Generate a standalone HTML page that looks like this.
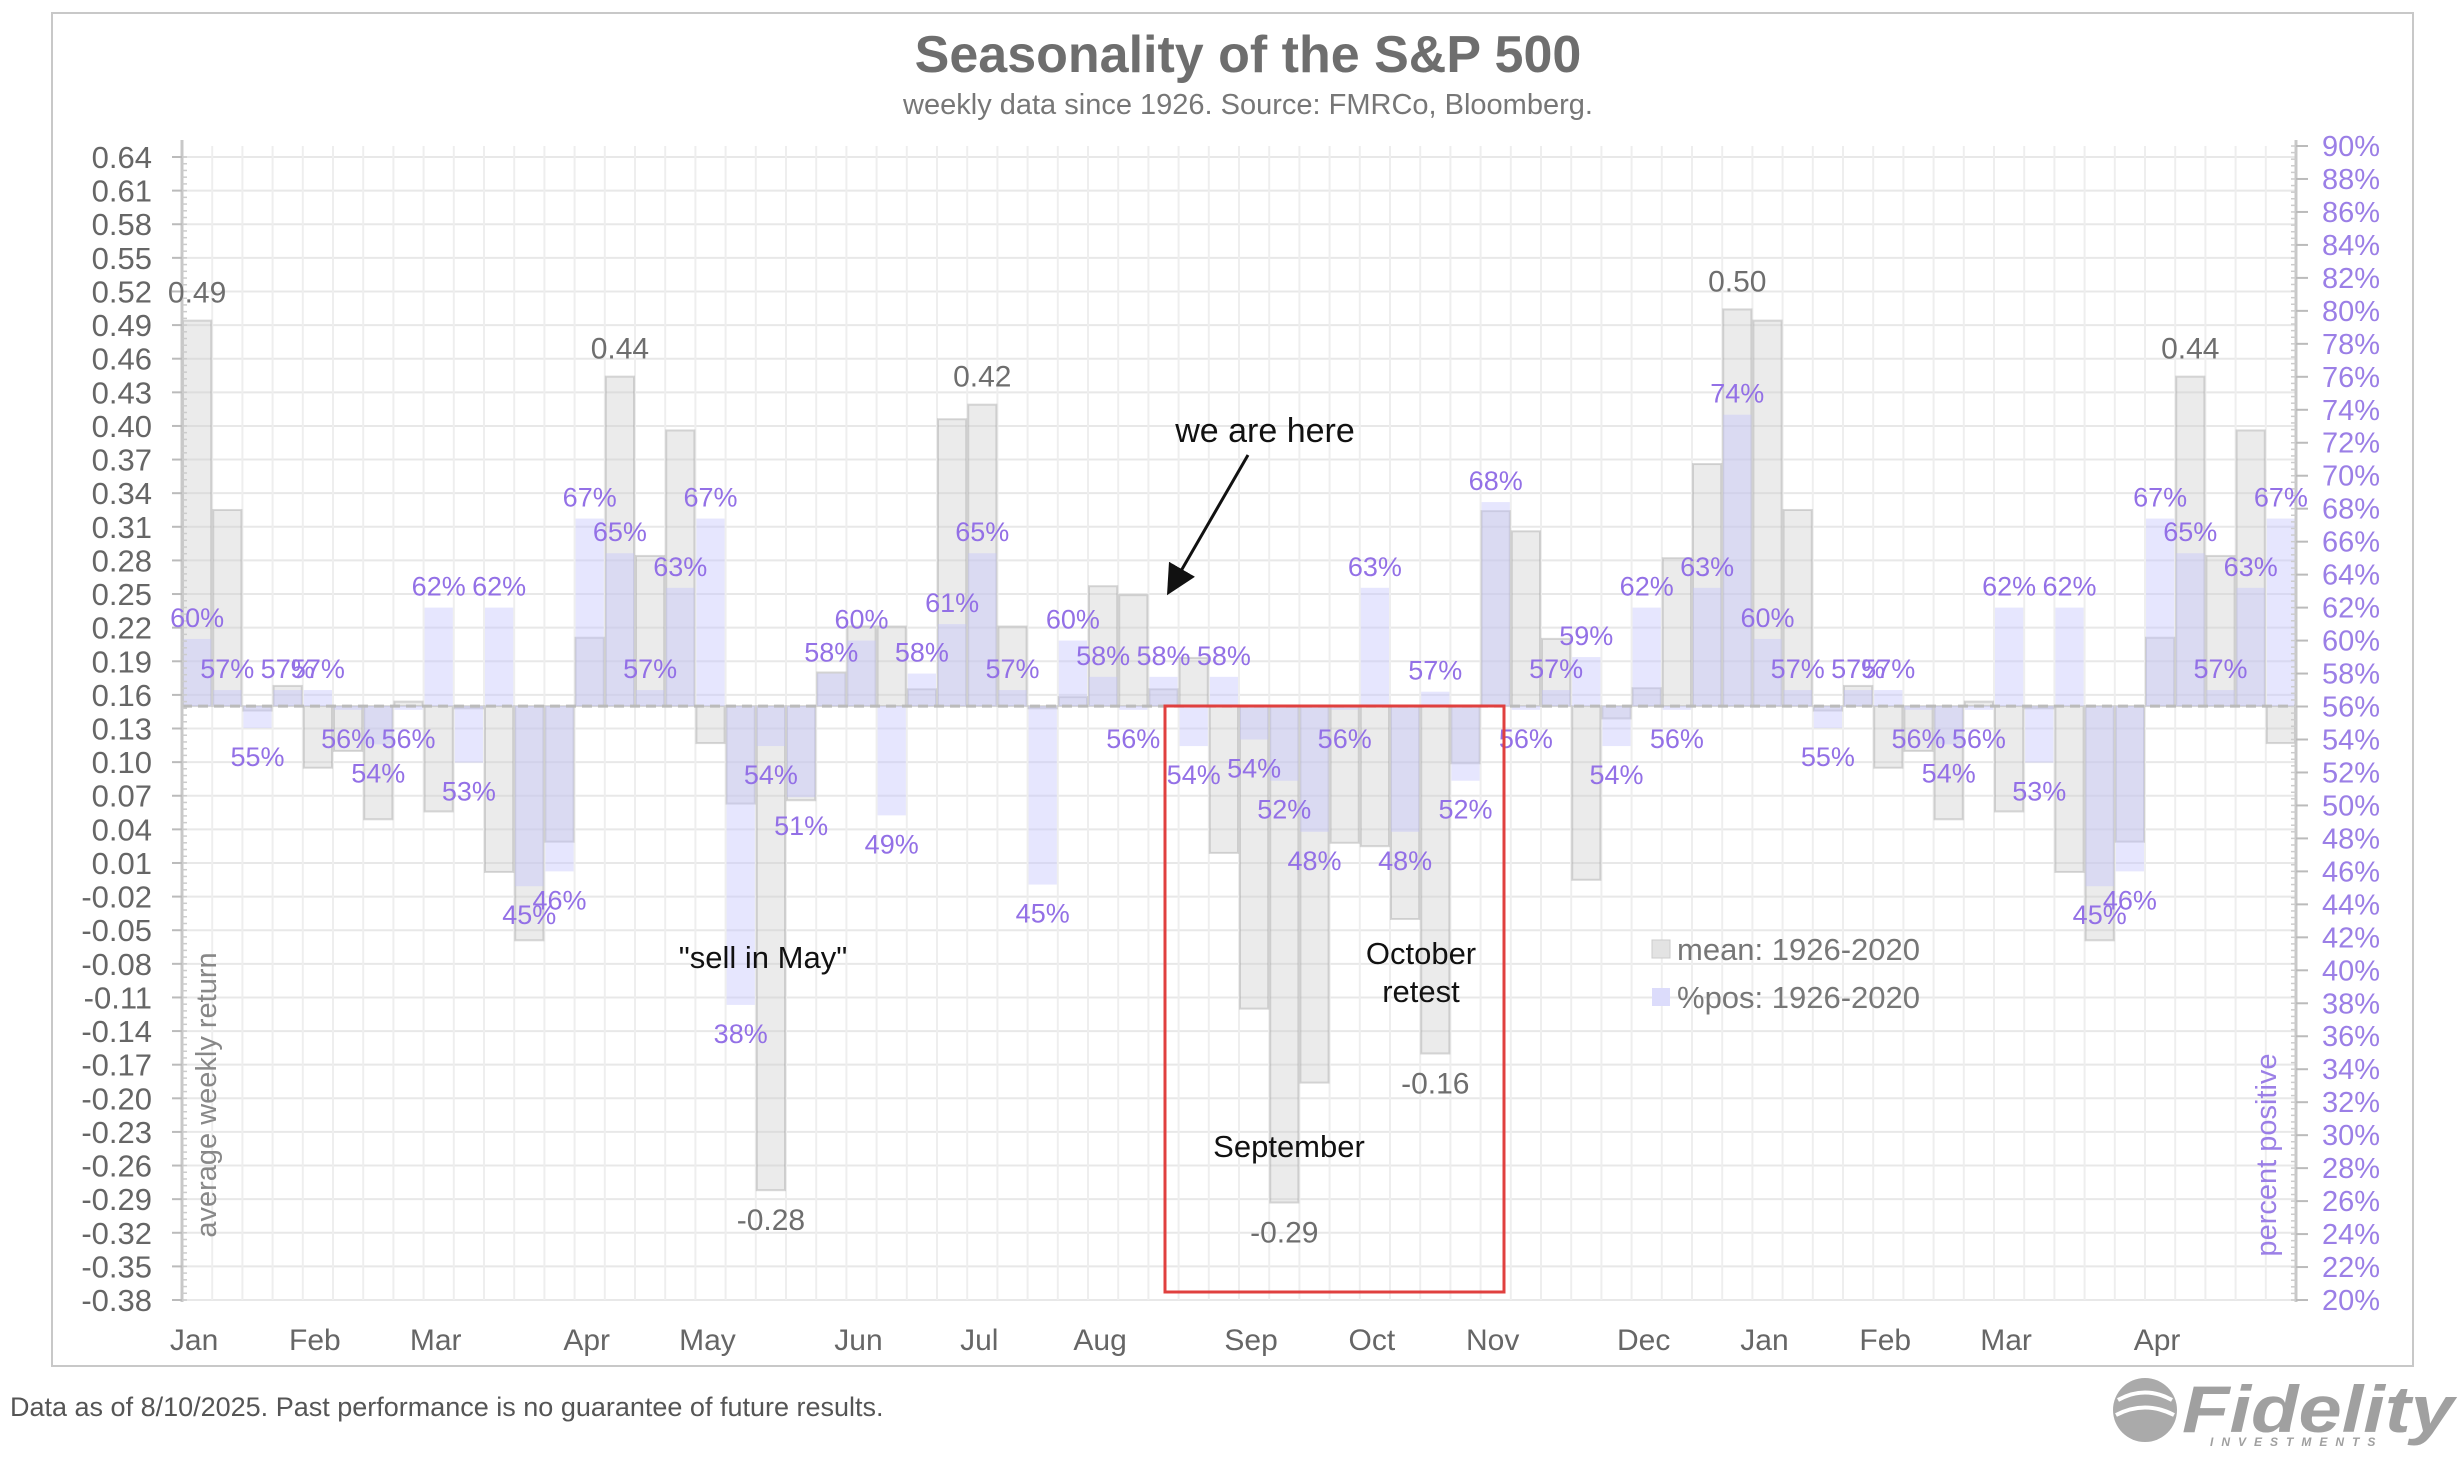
<!DOCTYPE html>
<html><head><meta charset="utf-8"><style>
html,body{margin:0;padding:0;background:#fff;}
svg{display:block;font-family:"Liberation Sans",Arial,sans-serif;}
</style></head><body>
<svg id="chart" width="2462" height="1458" viewBox="0 0 2462 1458" xmlns="http://www.w3.org/2000/svg">
<defs><marker id="ah" markerWidth="10" markerHeight="10" refX="8" refY="5" orient="auto"><path d="M0,0 L10,5 L0,10 z" fill="#111"/></marker></defs>
<rect x="52" y="13" width="2361" height="1353" fill="#fff" stroke="#c8c8c8" stroke-width="2"/>
<text x="1248" y="72" text-anchor="middle" font-size="52" font-weight="bold" fill="#6e6e6e">Seasonality of the S&amp;P 500</text>
<text x="1248" y="114" text-anchor="middle" font-size="29" fill="#777">weekly data since 1926.  Source: FMRCo, Bloomberg.</text>
<g id="grid"></g>
<g id="bars"></g>
<g id="axes"></g>
<g id="labels"></g>
<text transform="translate(216,1095) rotate(-90)" text-anchor="middle" font-size="29" fill="#888">average weekly return</text>
<text transform="translate(2276,1155) rotate(-90)" text-anchor="middle" font-size="29" fill="#9b7fe6">percent positive</text>
<text x="1265" y="442" text-anchor="middle" font-size="34" fill="#111">we are here</text>
<line x1="1248" y1="455" x2="1170" y2="590" stroke="#111" stroke-width="3" marker-end="url(#ah)"/>
<text x="763" y="968" text-anchor="middle" font-size="31" fill="#111">"sell in May"</text>
<rect x="1165" y="706" width="339" height="586" fill="none" stroke="#e0403f" stroke-width="3"/>
<text x="1421" y="964" text-anchor="middle" font-size="31" fill="#111">October</text>
<text x="1421" y="1002" text-anchor="middle" font-size="31" fill="#111">retest</text>
<text x="1289" y="1157" text-anchor="middle" font-size="31" fill="#111">September</text>
<g>
<rect x="1652" y="940" width="18" height="18" fill="#e3e3e3" stroke="#ccc"/>
<text x="1677" y="960" font-size="31" fill="#777">mean: 1926-2020</text>
<rect x="1652" y="988" width="18" height="18" fill="#dcdcfb"/>
<text x="1677" y="1008" font-size="31" fill="#777">%pos: 1926-2020</text>
</g>
<text x="10" y="1416" font-size="27" fill="#555">Data as of 8/10/2025. Past performance is no guarantee of future results.</text>
<g>
<circle cx="2145" cy="1410" r="32" fill="#aaa"/>
<path d="M2118,1400 Q2145,1385 2172,1400 M2116,1415 Q2145,1400 2174,1415" stroke="#fff" stroke-width="4" fill="none"/>
<text x="2182" y="1432" font-size="66" font-weight="bold" font-style="italic" fill="#a0a0a0" textLength="272" lengthAdjust="spacingAndGlyphs">Fidelity</text>
<text x="2210" y="1446" font-size="12" font-weight="bold" font-style="italic" fill="#a0a0a0" letter-spacing="8">INVESTMENTS</text>
</g>
</svg>
<script>
const meanVals=[0.494,0.325,0.146,0.168,0.095,0.11,0.049,0.154,0.056,0.148,0.002,-0.059,0.029,0.211,0.444,0.284,0.396,0.117,0.063,-0.282,0.066,0.18,0.221,0.221,0.165,0.406,0.419,0.221,0.148,0.158,0.257,0.249,0.165,0.193,0.019,-0.12,-0.293,-0.186,0.028,0.025,-0.04,-0.16,0.099,0.324,0.306,0.21,-0.005,0.139,0.166,0.282,0.366,0.504,
0.494,0.325,0.146,0.168,0.095,0.11,0.049,0.154,0.056,0.148,0.002,-0.059,0.029,0.211,0.444,0.284,0.396,0.117];
const pctVals=[60.1,57,54.7,57,57,55.8,53.7,55.8,62,52.6,62,45.1,46,67.4,65.3,57,63.2,67.4,37.9,53.6,50.5,58,60,49.4,58,61,65.3,57,45.2,60,57.8,55.8,57.8,53.6,57.8,54,51.5,48.4,55.8,63.2,48.4,56.9,51.5,68.4,55.8,57,59,53.6,62,55.8,63.2,73.7,
60.1,57,54.7,57,57,55.8,53.7,55.8,62,52.6,62,45.1,46,67.4,65.3,57,63.2,67.4];
const meanLabelIdx=[0,14,19,26,36,41,51,66];
const months=["Jan","Feb","Mar","Apr","May","Jun","Jul","Aug","Sep","Oct","Nov","Dec","Jan","Feb","Mar","Apr"];
const monthStart=[0,4,8,13,17,22,26,30,35,39,43,48,52,56,60,65];
const leftTicks=[];for(let k=0;k<=34;k++)leftTicks.push(+(0.64-0.03*k).toFixed(2));
const rightTicks=[];for(let p=90;p>=20;p-=2)rightTicks.push(p);

const NS="http://www.w3.org/2000/svg";
const X0=182,X1=2296,N=meanVals.length,BW=(X1-X0)/N;
const yL=v=>157+(0.64-v)*1120.6;
const yR=p=>146+(90-p)*16.486;
const xB=i=>X0+i*BW;
function mk(tag,attrs,parent,txt){const e=document.createElementNS(NS,tag);for(const k in attrs)e.setAttribute(k,attrs[k]);if(txt!==undefined)e.textContent=txt;parent.appendChild(e);return e;}
const grid=document.getElementById('grid'),bars=document.getElementById('bars'),axes=document.getElementById('axes'),labels=document.getElementById('labels');
leftTicks.forEach(v=>{const l=mk('line',{x1:X0,x2:X1,y1:yL(v),y2:yL(v),stroke:'#e8e8e8','stroke-width':2},grid);

});
for(let i=0;i<=N;i++){const l=mk('line',{x1:xB(i),x2:xB(i),y1:146,y2:1300,stroke:'#eeeeee','stroke-width':2},grid);

}
const base=yL(0.15);
for(let i=0;i<N;i++){
 const y=yL(meanVals[i]);
 const g=mk('rect',{x:xB(i)+1,width:BW-2,y:Math.min(y,base),height:Math.max(1,Math.abs(y-base)),fill:'rgba(205,205,205,0.4)',stroke:'rgba(160,160,160,0.4)','stroke-width':2},bars);
 
 
}
for(let i=0;i<N;i++){
 const y=yR(pctVals[i]);
 const p=mk('rect',{x:xB(i)+1,width:BW-2,y:Math.min(y,base),height:Math.max(1,Math.abs(y-base)),fill:'rgba(195,195,252,0.42)'},bars);
 
 
}
const bl=mk('line',{x1:X0,x2:X1,y1:base,y2:base,stroke:'#bbb','stroke-width':3,'stroke-dasharray':'10,6'},bars);


[X0,X1].forEach(x=>{const a=mk('line',{x1:x,x2:x,y1:140,y2:1302,stroke:'#c8c8c8','stroke-width':3},axes);

});
for(let k=0;k<=170;k++){const y=157+k*1143/170;mk('line',{x1:X0,x2:X0+5,y1:y,y2:y,stroke:'#ccc','stroke-width':1.5},axes);}
for(let k=0;k<=175;k++){const y=146+k*1154/175;mk('line',{x1:X1-5,x2:X1,y1:y,y2:y,stroke:'#ccc','stroke-width':1.5},axes);}
leftTicks.forEach(v=>{const y=yL(v);mk('line',{x1:X0-10,x2:X0,y1:y,y2:y,stroke:'#bbb','stroke-width':2},axes);
const t=mk('text',{x:152,y:y+11,'text-anchor':'end','font-size':31,fill:'#666'},axes,v.toFixed(2));

});
rightTicks.forEach(p=>{const y=yR(p);mk('line',{x1:X1,x2:X1+12,y1:y,y2:y,stroke:'#bbb','stroke-width':2},axes);
const t=mk('text',{x:2322,y:y+10,'font-size':29,fill:'#9b7fe6'},axes,p+'%');

});
months.forEach((m,k)=>{const t=mk('text',{x:xB(monthStart[k])+BW*0.4,y:1350,'text-anchor':'middle','font-size':30,fill:'#666'},axes,m);

});
for(let i=0;i<N;i++){const p=pctVals[i],y=yR(p);const ty=p>=56?y-12:y+38;
const t=mk('text',{x:xB(i)+BW/2,y:ty,'text-anchor':'middle','font-size':27,fill:'#9370e6'},labels,Math.round(p)+'%');

}
meanLabelIdx.forEach(i=>{const v=meanVals[i],y=yL(v);const ty=v>=0.15?y-18:y+40;
const t=mk('text',{x:xB(i)+BW/2,y:ty,'text-anchor':'middle','font-size':30,fill:'#6e6e6e'},labels,v.toFixed(2));

});
</script>
</body></html>
